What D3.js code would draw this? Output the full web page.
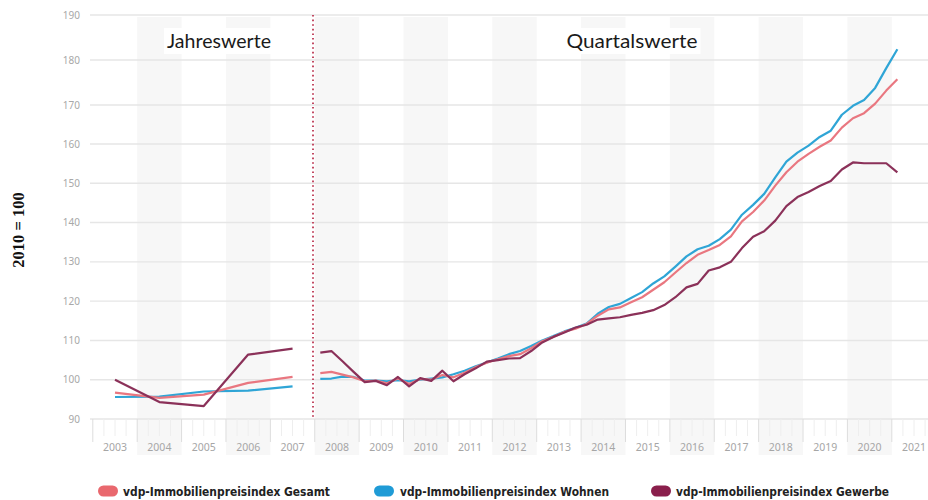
<!DOCTYPE html>
<html><head><meta charset="utf-8">
<script src="https://cdn.jsdelivr.net/npm/d3@7"></script>
<style>body{margin:0;background:#fff}svg{display:block}</style>
</head><body>
<svg id="chart" width="928" height="500"></svg>
<script>
// ---- data ----
const annualYears = [2003, 2004, 2005, 2006, 2007];
const annualGesamt  = [96.7, 95.4, 96.2, 99.2, 100.7];
const annualWohnen  = [95.6, 95.7, 97.0, 97.2, 98.3];
const annualGewerbe = [100.0, 94.3, 93.3, 106.4, 107.9];

// quarterly 2008Q1 ... 2021Q1
const quarterStartYear = 2008;
const quarterlyGesamt = [
  101.7, 102.0, 101.3, 100.6,
  99.6, 99.8, 99.1, 100.3,
  98.9, 100.2, 100.0, 101.2,
  100.6, 101.8, 103.2, 104.3,
  105.2, 106.0, 106.5, 108.0,
  109.8, 110.9, 112.2, 113.0,
  114.2, 116.3, 117.9, 118.4,
  119.7, 121.0, 122.9, 124.8,
  127.3, 129.7, 131.8, 133.0,
  134.3, 136.5, 140.3, 142.7,
  145.6, 149.4, 152.8, 155.5,
  157.5, 159.3, 160.9, 164.2,
  166.6, 167.9, 170.3, 173.2,
  175.7
];
const quarterlyWohnen = [
  100.2, 100.3, 100.8, 100.7,
  99.8, 99.8, 99.6, 99.9,
  99.6, 100.0, 100.3, 100.6,
  101.4, 102.3, 103.4, 104.4,
  105.4, 106.5, 107.3, 108.6,
  110.0, 111.1, 112.3, 113.2,
  114.3, 116.8, 118.5, 119.3,
  120.8, 122.3, 124.5, 126.3,
  128.8, 131.4, 133.2, 134.1,
  135.8, 138.2, 142.0, 144.5,
  147.3, 151.5, 155.5, 157.8,
  159.6, 161.8, 163.4, 167.5,
  169.8, 171.1, 173.8, 178.2,
  182.4
];
const quarterlyGewerbe = [
  106.9, 107.3, 104.7, 102.0,
  99.4, 99.7, 98.6, 100.7,
  98.3, 100.4, 99.7, 102.3,
  99.6, 101.4, 102.9, 104.6,
  105.0, 105.4, 105.5, 107.3,
  109.5, 110.9, 112.0, 113.3,
  114.0, 115.3, 115.6, 115.9,
  116.5, 117.0, 117.7, 119.0,
  121.0, 123.5, 124.4, 127.8,
  128.6, 130.0, 133.5, 136.4,
  137.8, 140.5, 144.2, 146.5,
  147.8, 149.3, 150.6, 153.5,
  155.3, 155.1, 155.1, 155.1,
  152.8
];
const yTicks = [90, 100, 110, 120, 130, 140, 150, 160, 170, 180, 190];
const xTickYears = [2003,2004,2005,2006,2007,2008,2009,2010,2011,2012,2013,2014,2015,2016,2017,2018,2019,2020,2021];
const seriesNames = ["vdp-Immobilienpreisindex Gesamt", "vdp-Immobilienpreisindex Wohnen", "vdp-Immobilienpreisindex Gewerbe"];
const sectionTitles = ["Jahreswerte", "Quartalswerte"];
const yTitle = "2010 = 100";

// ---- layout ----
const svg = d3.select("#chart");
const W = 928, H = 500;
const x = d3.scaleLinear().domain([2003.5, 2021.5]).range([115, 914]);
const y = d3.scaleLinear().domain([90, 160, 170, 190]).range([419, 144, 105, 15]);
const colors = {Gesamt: "#e97780", Wohnen: "#2fa5d6", Gewerbe: "#8b3159"};
const swatch = ["#e9686e", "#1f9bd6", "#8a1f4c"];

svg.append("rect").attr("width", W).attr("height", H).attr("fill", "#fff");

// alternating bands
const bandYears = d3.range(2004, 2022, 2);
svg.append("g").selectAll("rect").data(bandYears).join("rect")
  .attr("x", d => x(d)).attr("width", d => x(d + 1) - x(d))
  .attr("y", 17).attr("height", 438)
  .attr("fill", "#f7f7f7");

// gridlines
svg.append("g").selectAll("line").data(yTicks).join("line")
  .attr("x1", 90).attr("x2", W)
  .attr("y1", d => y(d)).attr("y2", d => y(d))
  .attr("stroke", "#e6e6e6").attr("stroke-width", 1.4);

// y labels
svg.append("g").selectAll("text").data(yTicks).join("text")
  .attr("x", 80).attr("y", d => y(d)).attr("dy", "0.35em")
  .attr("text-anchor", "end")
  .attr("font-family", "'Noto Sans', sans-serif").attr("font-size", 10)
  .attr("fill", "#a8a8a8").text(d => d);

// x ticks (quarterly marks)
const qTicks = d3.range(2003, 2022, 0.25);
svg.append("g").selectAll("line").data(qTicks).join("line")
  .attr("x1", d => x(d)).attr("x2", d => x(d))
  .attr("y1", y(90)).attr("y2", d => Number.isInteger(d) ? 442 : 436)
  .attr("stroke", d => Number.isInteger(d) ? "#dddddd" : "#eeeeee")
  .attr("stroke-width", 1);

// x labels
svg.append("g").selectAll("text").data(xTickYears).join("text")
  .attr("x", d => x(d + 0.5)).attr("y", 451)
  .attr("text-anchor", "middle")
  .attr("font-family", "'Noto Sans', sans-serif").attr("font-size", 10.5)
  .attr("fill", "#a6a6a6").text(d => d);

// section titles
const titlePos = [[219, 48], [632, 48]];
sectionTitles.forEach((t, i) => {
  const tw = i === 0 ? 104 : 131;
  svg.append("rect").attr("x", titlePos[i][0] - tw/2 - 3).attr("y", 28)
    .attr("width", tw + 6).attr("height", 26).attr("fill", "#fff");
  svg.append("text").attr("x", titlePos[i][0]).attr("y", titlePos[i][1])
    .attr("text-anchor", "middle")
    .attr("font-family", "Lato, 'Open Sans', sans-serif").attr("font-size", 20)
    .attr("fill", "#1a1a1a")
    .attr("textLength", tw).attr("lengthAdjust", "spacingAndGlyphs")
    .text(t);
});

// divider
svg.append("line").attr("x1", 313).attr("x2", 313).attr("y1", 15).attr("y2", 418)
  .attr("stroke", "#c24a63").attr("stroke-width", 2)
  .attr("stroke-dasharray", "1.6,3");

// y title
svg.append("text").attr("transform", "translate(24,230) rotate(-90)")
  .attr("text-anchor", "middle")
  .attr("font-family", "'Liberation Serif', serif").attr("font-weight", "bold")
  .attr("font-size", 16.5).attr("fill", "#111").text(yTitle);

// lines
const line = d3.line().x(d => x(d[0])).y(d => y(d[1]));
const annualX = annualYears.map(v => v + 0.5);
const qX = quarterlyGesamt.map((_, i) => quarterStartYear + Math.floor(i / 4) + ((i % 4) + 0.5) / 4);
const sets = [
  ["Gesamt", annualGesamt, quarterlyGesamt],
  ["Wohnen", annualWohnen, quarterlyWohnen],
  ["Gewerbe", annualGewerbe, quarterlyGewerbe]
];
const order = [1, 0, 2];
order.forEach(k => {
  const [name, a, q] = sets[k];
  svg.append("path").datum(a.map((v, i) => [annualX[i], v]))
    .attr("d", line).attr("fill", "none").attr("stroke", colors[name])
    .attr("stroke-width", 2.2).attr("stroke-linejoin", "round");
  svg.append("path").datum(q.map((v, i) => [qX[i], v]))
    .attr("d", line).attr("fill", "none").attr("stroke", colors[name])
    .attr("stroke-width", 2.2).attr("stroke-linejoin", "round");
});

// legend
const legendX = [[98, 123, 207], [374, 400, 209], [651, 676, 213]];
seriesNames.forEach((n, i) => {
  const [sx, tx, tw] = legendX[i];
  svg.append("rect").attr("x", sx).attr("y", 485.5).attr("width", 20).attr("height", 11)
    .attr("rx", 5.5).attr("ry", 5.5).attr("fill", swatch[i]);
  svg.append("text").attr("x", tx).attr("y", 495.5)
    .attr("font-family", "'Liberation Sans Narrow', 'DejaVu Sans Condensed', sans-serif")
    .attr("font-weight", "bold").attr("font-size", 13).attr("fill", "#222")
    .attr("textLength", tw).attr("lengthAdjust", "spacingAndGlyphs")
    .text(n);
});
</script>
</body></html>
